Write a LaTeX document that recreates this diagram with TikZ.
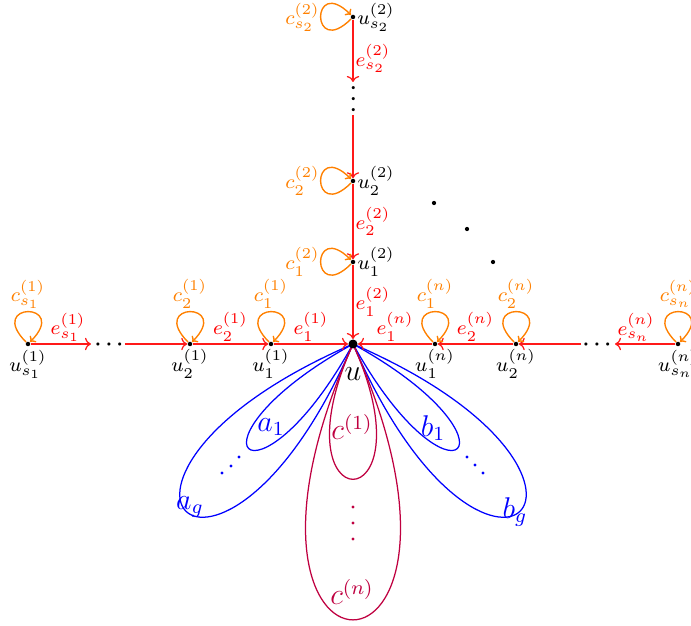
\documentclass[tikz,border=0pt]{standalone}
\usetikzlibrary{arrows.meta}
\begin{document}
\begin{tikzpicture}[x=0.4pt,y=-0.4pt,
  vtx/.style={circle,fill=black,inner sep=0pt,minimum size=1.8pt},
  uvtx/.style={circle,fill=black,inner sep=0pt,minimum size=3.6pt},
  redge/.style={draw=red!90,line width=0.5pt,-{To[length=2.4pt,width=5pt]}},
  lp/.style={draw=orange,line width=0.55pt,-{To[length=2pt,width=3.6pt]}},
  elab/.style={text=red,font=\footnotesize,inner sep=0.8pt},
  ulab/.style={text=black,font=\footnotesize,inner sep=0pt},
  clab/.style={text=orange,font=\footnotesize,inner sep=0pt},
  bl/.style={draw=blue,line width=0.5pt},
  pl/.style={draw=purple,line width=0.5pt},
  biglab/.style={font=\large,inner sep=0pt},
  dotsn/.style={inner sep=0pt,anchor=mid,font=\footnotesize\boldmath},
  ddot/.style={circle,inner sep=0pt,minimum size=#1},
  ddot/.default=1.3pt,
]
\useasboundingbox (-353,-344) rectangle (338,281);

% lower loops
\coordinate (o) at (0,0);
\draw[bl] (o) .. controls +(151.1:205) and +(118.9:205) .. (o);
\draw[bl] (o) .. controls +(156.6:339) and +(113.4:339) .. (o);
\draw[bl] (o) .. controls +(28.9:205) and +(61.1:205) .. (o);
\draw[bl] (o) .. controls +(23.4:339) and +(66.6:339) .. (o);
\draw[pl] (o) .. controls +(65.7:198) and +(114.3:198) .. (o);
\draw[pl] (o) .. controls +(65.9:403) and +(114.1:403) .. (o);

\node[uvtx] (u) at (o) {};

% vertices
\node[vtx] (l1) at (-82,0) {};
\node[vtx] (l2) at (-163,0) {};
\node[vtx] (ls) at (-325,0) {};
\coordinate (lend) at (-262,0);
\coordinate (lbeg) at (-228,0);
\node[dotsn] (ldots) at (-244,0) {$\cdots$};

\node[vtx] (r1) at (82,0) {};
\node[vtx] (r2) at (163,0) {};
\node[vtx] (rs) at (325,0) {};
\coordinate (rend) at (262,0);
\coordinate (rbeg) at (228,0);
\node[dotsn] (rdots) at (244,0) {$\cdots$};

\node[vtx] (t1) at (0,-82) {};
\node[vtx] (t2) at (0,-163) {};
\node[vtx] (ts) at (0,-327) {};
\coordinate (tend) at (0,-262);
\coordinate (tbeg) at (0,-229);
\node[dotsn,rotate=90] (tdots) at (0,-245) {$\cdots$};

% edges
\draw[redge] (ls) -- node[elab,above,pos=0.62]{$e_{s_1}^{(1)}$} (lend);
\draw[redge] (lbeg) -- (l2);
\draw[redge] (l2) -- node[elab,above]{$e_2^{(1)}$} (l1);
\draw[redge] (l1) -- node[elab,above]{$e_1^{(1)}$} (u);

\draw[redge] (rs) -- node[elab,above,pos=0.65]{$e_{s_n}^{(n)}$} (rend);
\draw[redge] (rbeg) -- (r2);
\draw[redge] (r2) -- node[elab,above]{$e_2^{(n)}$} (r1);
\draw[redge] (r1) -- node[elab,above]{$e_1^{(n)}$} (u);

\draw[redge] (ts) -- node[elab,right,pos=0.62]{$e_{s_2}^{(2)}$} (tend);
\draw[redge] (tbeg) -- (t2);
\draw[redge] (t2) -- node[elab,right]{$e_2^{(2)}$} (t1);
\draw[redge] (t1) -- node[elab,right]{$e_1^{(2)}$} (u);

% orange loops
\foreach \v in {l1,l2,ls,r1,r2,rs}
  \draw[lp] (\v) .. controls +(-135:60) and +(-45:60) .. (\v);
\foreach \v in {t1,t2,ts}
  \draw[lp] (\v) .. controls +(135:60) and +(-135:60) .. (\v);

% vertex labels
\node[ulab] (ul1) at (-82,20) {$u_1^{(1)}$};
\node[ulab] (ul2) at (-163,20) {$u_2^{(1)}$};
\node[ulab] (uls) at (-325,20) {$u_{s_1}^{(1)}$};
\node[ulab] (ur1) at (82,20) {$u_1^{(n)}$};
\node[ulab] (ur2) at (163,20) {$u_2^{(n)}$};
\node[ulab] (urs) at (325,20) {$u_{s_n}^{(n)}$};
\node[ulab,anchor=west] (ut1) at (4,-82) {$u_1^{(2)}$};
\node[ulab,anchor=west] (ut2) at (4,-163) {$u_2^{(2)}$};
\node[ulab,anchor=west] (uts) at (4,-327) {$u_{s_2}^{(2)}$};

\node[clab] (cl1) at (-82,-50) {$c_1^{(1)}$};
\node[clab] (cl2) at (-163,-50) {$c_2^{(1)}$};
\node[clab] (cls) at (-325,-50) {$c_{s_1}^{(1)}$};
\node[clab] (cr1) at (82,-50) {$c_1^{(n)}$};
\node[clab] (cr2) at (163,-50) {$c_2^{(n)}$};
\node[clab] (crs) at (325,-50) {$c_{s_n}^{(n)}$};
\node[clab,anchor=east] (ct1) at (-33,-82) {$c_1^{(2)}$};
\node[clab,anchor=east] (ct2) at (-33,-163) {$c_2^{(2)}$};
\node[clab,anchor=east] (cts) at (-33,-327) {$c_{s_2}^{(2)}$};

% big labels
\node[biglab] (ulab) at (0,30) {$u$};
\node[biglab,text=blue] (la1) at (-82,83) {$a_1$};
\node[biglab,text=blue] (lag) at (-163,163) {$a_g$};
\node[biglab,text=blue] (lb1) at (80,84) {$b_1$};
\node[biglab,text=blue] (lbg) at (162,168) {$b_g$};
\node[biglab,text=purple] (lc1) at (-1,83) {$c^{(1)}$};
\node[biglab,text=purple] (lcn) at (-1,248) {$c^{(n)}$};

% dot groups
\foreach \p in {(81,-141),(114,-115),(140,-82)}
  \node[ddot=1.7pt,fill=black] at \p {};
\foreach \p in {(-131,129),(-122,122),(-114,113),(114,113),(122,121),(130,129)}
  \node[ddot,fill=blue] at \p {};
\foreach \p in {(0,163),(0,179),(0,195)}
  \node[ddot,fill=purple] at \p {};
\end{tikzpicture}
\end{document}
